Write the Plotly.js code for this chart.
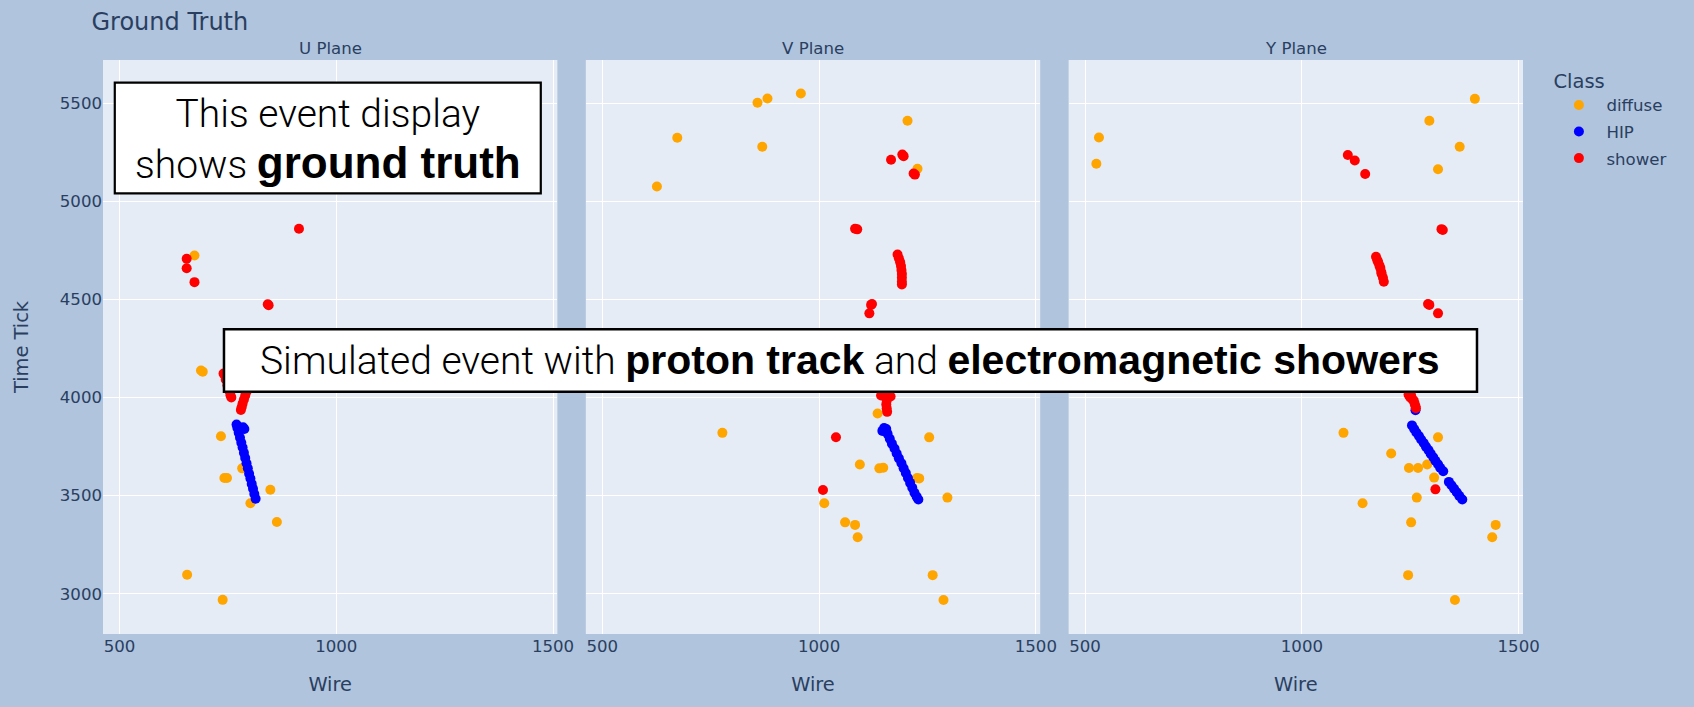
<!DOCTYPE html>
<html>
<head>
<meta charset="utf-8">
<script src="https://cdn.plot.ly/plotly-3.0.1.min.js"></script>
<style>
html,body{margin:0;padding:0;background:#b0c4de;}
#chart{width:1694px;height:707px;}
</style>
</head>
<body>
<div id="chart"></div>
<script>
// ---------- data ----------
const planes = ["U Plane", "V Plane", "Y Plane"];
const classes = ["diffuse", "HIP", "shower"];
const classColors = ["orange", "blue", "red"];

// U plane
const uDiffuseWire = [673, 688, 692, 734, 783, 742, 748, 848, 802, 863, 656, 738];
const uDiffuseTick = [4724, 4138, 4132, 3803, 3639, 3590, 3590, 3530, 3461, 3366, 3097, 2969];
const uHipWire = [770, 772, 785, 788, 775, 778, 781, 784, 787, 790, 793, 796, 799, 802, 805, 808, 811, 814];
const uHipTick = [3862, 3845, 3848, 3840, 3820, 3795, 3770, 3745, 3718, 3692, 3665, 3640, 3612, 3587, 3560, 3535, 3508, 3484];
const uShowerWire = [914, 655, 655, 673, 842, 844, 740, 745, 749, 753, 756, 758, 795, 793, 790, 787, 784, 782, 780];
const uShowerTick = [4860, 4707, 4659, 4588, 4475, 4470, 4122, 4092, 4062, 4035, 4012, 4000, 4052, 4030, 4010, 3990, 3970, 3952, 3937];

// V plane
const vDiffuseWire = [626, 673, 858, 881, 958, 869, 1204, 1227, 1135, 777, 1254, 1094, 1139, 1148, 1231, 1226, 1296, 1012, 1060, 1083, 1089, 1262, 1287];
const vDiffuseTick = [5075, 5324, 5502, 5524, 5549, 5278, 5410, 5166, 3919, 3820, 3797, 3659, 3639, 3642, 3588, 3590, 3490, 3461, 3364, 3351, 3288, 3095, 2968];
const vHipWire = [1146, 1150, 1155, 1158, 1163, 1168, 1174, 1179, 1184, 1190, 1195, 1200, 1205, 1210, 1215, 1220, 1225, 1229];
const vHipTick = [3830, 3845, 3840, 3815, 3790, 3765, 3740, 3715, 3690, 3665, 3640, 3615, 3590, 3565, 3540, 3515, 3495, 3480];
const vShowerWire = [1166, 1192, 1195, 1218, 1221, 1083, 1088, 1181, 1184, 1187, 1189, 1190, 1191, 1191, 1191, 1191, 1122, 1120, 1116, 1039, 1009,
                     1150, 1152, 1153, 1154, 1156, 1155, 1156, 1157, 1143, 1165];
const vShowerTick = [5212, 5238, 5230, 5142, 5136, 4860, 4857, 4729, 4710, 4690, 4670, 4650, 4630, 4610, 4590, 4576, 4477, 4472, 4429, 3798, 3529,
                     4060, 4040, 4020, 4003, 3985, 3965, 3945, 3927, 4010, 4005];

// Y plane
const yDiffuseWire = [532, 526, 1399, 1294, 1364, 1314, 1096, 1314, 1206, 1247, 1268, 1289, 1305, 1265, 1140, 1252, 1447, 1439, 1245, 1353];
const yDiffuseTick = [5325, 5191, 5522, 5410, 5278, 5163, 3820, 3797, 3715, 3641, 3641, 3659, 3592, 3490, 3461, 3364, 3351, 3288, 3095, 2968];
const yHipWire = [1262, 1254, 1259, 1264, 1270, 1275, 1281, 1286, 1292, 1297, 1303, 1308, 1314, 1319, 1326, 1339, 1345, 1351, 1357, 1363, 1370];
const yHipTick = [3935, 3858, 3840, 3822, 3804, 3786, 3768, 3750, 3732, 3714, 3696, 3678, 3660, 3642, 3624, 3570, 3553, 3535, 3517, 3499, 3480];
const yShowerWire = [1106, 1122, 1146, 1322, 1325, 1171, 1174, 1176, 1179, 1181, 1183, 1184, 1187, 1189, 1291, 1294, 1314, 1308,
                     1246, 1250, 1252, 1255, 1258, 1260, 1262, 1263];
const yShowerTick = [5236, 5208, 5139, 4858, 4854, 4717, 4700, 4690, 4672, 4660, 4640, 4630, 4610, 4590, 4477, 4472, 4429, 3532,
                     4015, 4000, 4010, 3990, 3985, 3970, 3955, 3945];

const wireTicks = [500, 1000, 1500];
const timeTicks = [3000, 3500, 4000, 4500, 5000, 5500];

// ---------- build ----------
const planeData = [
  [[uDiffuseWire, uDiffuseTick], [uHipWire, uHipTick], [uShowerWire, uShowerTick]],
  [[vDiffuseWire, vDiffuseTick], [vHipWire, vHipTick], [vShowerWire, vShowerTick]],
  [[yDiffuseWire, yDiffuseTick], [yHipWire, yHipTick], [yShowerWire, yShowerTick]]
];

const traces = [];
classes.forEach((cls, ci) => {
  planes.forEach((pl, pi) => {
    const suffix = pi === 0 ? "" : String(pi + 1);
    traces.push({
      type: "scatter",
      mode: "markers",
      name: cls,
      legendgroup: cls,
      showlegend: pi === 0,
      x: planeData[pi][ci][0],
      y: planeData[pi][ci][1],
      xaxis: "x" + suffix,
      yaxis: "y" + suffix,
      marker: { color: classColors[ci], size: 10, line: { width: 0 } }
    });
  });
});

const baseFont = { family: "DejaVu Sans, Verdana, sans-serif", size: 16.6, color: "#2a3f5f" };
const domains = [[0, 0.32], [0.34, 0.66], [0.68, 1]];

function xAxis(i) {
  return {
    domain: domains[i],
    anchor: i === 0 ? "y" : "y" + (i + 1),
    range: [462, 1510],
    tickvals: wireTicks,
    ticktext: wireTicks.map(String),
    gridcolor: "white", gridwidth: 1.4,
    zeroline: false, showline: false, ticks: "",
    title: { text: "Wire", font: { size: 19.4 }, standoff: 22 }
  };
}
function yAxis(i) {
  const a = {
    anchor: i === 0 ? "x" : "x" + (i + 1),
    domain: [0, 1],
    range: [2795, 5720],
    tickvals: timeTicks,
    ticktext: timeTicks.map(String),
    gridcolor: "white", gridwidth: 1.4,
    zeroline: false, showline: false, ticks: ""
  };
  if (i === 0) {
    a.title = { text: "Time Tick", font: { size: 19.4 }, standoff: 25 };
  } else {
    a.matches = "y";
    a.showticklabels = false;
  }
  return a;
}

const lightFamily = "Roboto, 'Liberation Sans', Arial, sans-serif";
const boldSpan = (t, size) => "<b><span style=\"font-family:'Liberation Sans', Arial, sans-serif;font-size:" + size + "px\">" + t + "</span></b>";

const layout = {
  width: 1694, height: 707,
  paper_bgcolor: "#b0c4de",
  plot_bgcolor: "#e5ecf6",
  font: baseFont,
  margin: { l: 103, r: 171, t: 60, b: 73, pad: 0 },
  title: { text: "Ground Truth", font: { size: 24 }, x: 0.054, xanchor: "left", y: 0.97, yanchor: "middle" },
  showlegend: true,
  legend: {
    title: { text: "Class", font: { size: 19.5 } },
    tracegroupgap: 2,
    itemwidth: 45,
    y: 0.996,
    bgcolor: "rgba(0,0,0,0)"
  },
  xaxis: xAxis(0), xaxis2: xAxis(1), xaxis3: xAxis(2),
  yaxis: yAxis(0), yaxis2: yAxis(1), yaxis3: yAxis(2),
  shapes: [
    { type: "rect", xref: "paper", yref: "paper", x0: 0.0083, x1: 0.3083, y0: 0.7678, y1: 0.9605,
      fillcolor: "white", line: { color: "black", width: 2.2 }, layer: "above" },
    { type: "rect", xref: "paper", yref: "paper", x0: 0.0852, x1: 0.9676, y0: 0.4221, y1: 0.5308,
      fillcolor: "white", line: { color: "black", width: 2.5 }, layer: "above" }
  ],
  annotations: planes.map((p, i) => ({
    text: p, xref: "paper", yref: "paper",
    x: (domains[i][0] + domains[i][1]) / 2, y: 1,
    xanchor: "center", yanchor: "bottom", showarrow: false,
    font: { size: 16.6 }
  })).concat([
    { text: "This event display<br>shows " + boldSpan("ground truth", 44), xref: "paper", yref: "paper",
      x: 0.1583, y: 0.862, xanchor: "center", yanchor: "middle", showarrow: false,
      font: { family: lightFamily, size: 39, color: "black", weight: 300 } },
    { text: "Simulated event with " + boldSpan("proton track", 41) + " and " + boldSpan("electromagnetic showers", 41), xref: "paper", yref: "paper",
      x: 0.5264, y: 0.4765, xanchor: "center", yanchor: "middle", showarrow: false,
      font: { family: lightFamily, size: 39, color: "black", weight: 300 } }
  ])
};

Plotly.newPlot("chart", traces, layout, { displayModeBar: false, responsive: false });
</script>
</body>
</html>
